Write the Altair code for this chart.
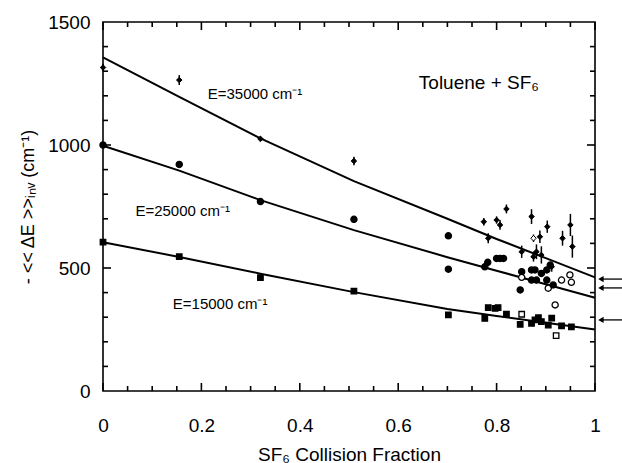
import altair as alt
import pandas as pd

FONT = "Liberation Sans"
W, H = 492, 369

# fitted curves (evaluated at the measured fractions)
curve_x = [0, 0.155, 0.32, 0.51, 0.7, 0.8, 0.9, 1.0]
curve_35000 = [1356, 1196, 1027, 853, 700, 618, 540, 462]
curve_25000 = [997, 896, 776, 654, 544, 489, 434, 379]
curve_15000 = [605, 545, 477, 402, 333, 305, 277, 250]

# E = 35000 cm-1 (diamonds with error bars)
e35_x = [0, 0.155, 0.32, 0.51, 0.774, 0.783, 0.800, 0.807, 0.820, 0.851, 0.871,
         0.875, 0.875, 0.881, 0.888, 0.891, 0.903, 0.912, 0.934, 0.950, 0.954]
e35_y = [1315, 1264, 1025, 935, 688, 621, 695, 675, 740, 566, 709,
         621, 546, 566, 627, 553, 668, 505, 621, 675, 587]
e35_err = [15, 20, 10, 17, 15, 20, 15, 20, 18, 25, 30,
           15, 20, 30, 25, 35, 25, 20, 30, 45, 45]
e35_open = [False] * 11 + [True] + [False] * 9

# E = 25000 cm-1 (circles)
e25_x = [0, 0.155, 0.32, 0.51, 0.702, 0.702, 0.776, 0.782, 0.800, 0.807, 0.814,
         0.851, 0.848, 0.871, 0.878, 0.871, 0.881, 0.891, 0.902, 0.902, 0.909,
         0.905, 0.915, 0.919, 0.932, 0.949, 0.952, 0.851]
e25_y = [1000, 921, 770, 698, 631, 495, 505, 523, 539, 539, 539,
         485, 411, 492, 492, 451, 451, 478, 492, 451, 512,
         418, 431, 350, 451, 472, 442, 462]
e25_open = [False] * 21 + [True, False, True, True, True, True, True]

# E = 15000 cm-1 (squares)
e15_x = [0, 0.155, 0.32, 0.51, 0.702, 0.776, 0.783, 0.797, 0.803, 0.820, 0.851,
         0.848, 0.871, 0.878, 0.885, 0.891, 0.905, 0.912, 0.921, 0.932, 0.952]
e15_y = [605, 546, 461, 406, 309, 295, 339, 336, 339, 312, 312,
         271, 275, 289, 298, 282, 268, 296, 225, 265, 261]
e15_open = [False] * 10 + [True] + [False] * 7 + [True, False, False]

# right-hand arrows (limits at fraction 1)
arrow_y = [455, 419, 289]

# axis ticks
x_major = [0, 0.2, 0.4, 0.6, 0.8, 1.0]
x_minor = [0.05, 0.1, 0.15, 0.25, 0.3, 0.35, 0.45, 0.5, 0.55, 0.65, 0.7, 0.75, 0.85, 0.9, 0.95]
y_major = [500, 1000]
y_minor = [100, 200, 300, 400, 600, 700, 800, 900, 1100, 1200, 1300, 1400]

# annotations
ann_text = ["E=35000 cm⁻¹", "E=25000 cm⁻¹", "E=15000 cm⁻¹", "Toluene + SF₆"]
ann_x = [0.309, 0.162, 0.238, 0.764]
ann_y = [1207, 732, 354, 1252]
ann_size = [15, 15, 15, 19]

xs = alt.Scale(domain=[0, 1], nice=False, zero=False)
ys = alt.Scale(domain=[0, 1500], nice=False, zero=False)

xaxis = alt.Axis(values=x_major, format="~g", domain=False, ticks=False, grid=False,
                 labelFlush=False, labelOverlap=False,
                 labelFont=FONT, labelFontSize=19, labelColor="black", labelPadding=25,
                 title="SF₆  Collision Fraction", titleFont=FONT, titleFontSize=19,
                 titleFontWeight="normal", titleColor="black", titleBaseline="alphabetic",
                 titleY=69)
yaxis = alt.Axis(values=[0, 500, 1000, 1500], format="d", domain=False, ticks=False, grid=False,
                 labelFlush=False, labelOverlap=False,
                 labelFont=FONT, labelFontSize=19, labelColor="black", labelPadding=13,
                 title="- << ΔE >>ᵢₙᵥ    (cm⁻¹)", titleFont=FONT, titleFontSize=18,
                 titleFontWeight="normal", titleColor="black", titleAngle=270,
                 titleAlign="center", titleBaseline="alphabetic", titleX=-70, titleY=H / 2)

curves = pd.DataFrame({
    "x": curve_x * 3,
    "y": curve_35000 + curve_25000 + curve_15000,
    "E": ["35000"] * len(curve_x) + ["25000"] * len(curve_x) + ["15000"] * len(curve_x),
})

lines = alt.Chart(curves).mark_line(color="black", strokeWidth=2).encode(
    x=alt.X("x:Q", scale=xs, axis=xaxis),
    y=alt.Y("y:Q", scale=ys, axis=yaxis),
    detail="E:N",
)

d35 = pd.DataFrame({"x": e35_x, "y": e35_y, "lo": [a - b for a, b in zip(e35_y, e35_err)],
                    "hi": [a + b for a, b in zip(e35_y, e35_err)], "open": e35_open})
d25 = pd.DataFrame({"x": e25_x, "y": e25_y, "open": e25_open})
d15 = pd.DataFrame({"x": e15_x, "y": e15_y, "open": e15_open})

fill_enc = alt.condition("datum.open", alt.value("white"), alt.value("black"))

err = alt.Chart(d35).mark_rule(color="black", strokeWidth=1.5).encode(
    x=alt.X("x:Q", scale=xs), y=alt.Y("lo:Q", scale=ys), y2="hi:Q")
pts35 = alt.Chart(d35).mark_point(shape="diamond", filled=True, size=30, stroke="black",
                                  strokeWidth=1, opacity=1).encode(
    x=alt.X("x:Q", scale=xs), y=alt.Y("y:Q", scale=ys), fill=fill_enc)
pts25 = alt.Chart(d25).mark_point(shape="circle", filled=True, size=38, stroke="black",
                                  strokeWidth=1.3, opacity=1).encode(
    x=alt.X("x:Q", scale=xs), y=alt.Y("y:Q", scale=ys), fill=fill_enc)
pts15 = alt.Chart(d15).mark_point(shape="square", filled=True, size=30, stroke="black",
                                  strokeWidth=1.3, opacity=1).encode(
    x=alt.X("x:Q", scale=xs), y=alt.Y("y:Q", scale=ys), fill=fill_enc)

arr = pd.DataFrame({"y": arrow_y, "x0": [1.012] * 3, "x1": [1.06] * 3})
arrow_shaft = alt.Chart(arr).mark_rule(color="black", strokeWidth=1.3, clip=False).encode(
    x=alt.X("x0:Q", scale=xs), x2="x1:Q", y=alt.Y("y:Q", scale=ys))
arrow_head = alt.Chart(arr).mark_point(shape="triangle-left", filled=True, size=40,
                                       color="black", opacity=1, clip=False).encode(
    x=alt.X("x0:Q", scale=xs), y=alt.Y("y:Q", scale=ys))

ann = pd.DataFrame({"t": ann_text, "x": ann_x, "y": ann_y, "s": ann_size})
ann_small = alt.Chart(ann[ann.s == 15]).mark_text(font=FONT, fontSize=15, color="black").encode(
    x=alt.X("x:Q", scale=xs), y=alt.Y("y:Q", scale=ys), text="t:N")
ann_big = alt.Chart(ann[ann.s == 19]).mark_text(font=FONT, fontSize=19, color="black").encode(
    x=alt.X("x:Q", scale=xs), y=alt.Y("y:Q", scale=ys), text="t:N")

# inward frame ticks on all four sides (tick lengths converted to data units)
XU = 1.0 / W
YU = 1500.0 / H
TICK_COLOR = "black"

def hticks(vals, length):
    out = []
    for a0, a1 in ((0.0, length * XU), (1 - length * XU, 1.0)):
        df = pd.DataFrame({"v": vals, "a0": [a0] * len(vals), "a1": [a1] * len(vals)})
        out.append(alt.Chart(df).mark_rule(color=TICK_COLOR, strokeWidth=1.6).encode(
            y=alt.Y("v:Q", scale=ys), x=alt.X("a0:Q", scale=xs), x2="a1:Q"))
    return out

def vticks(vals, length):
    out = []
    for b0, b1 in ((0.0, length * YU), (1500 - length * YU, 1500.0)):
        df = pd.DataFrame({"v": vals, "b0": [b0] * len(vals), "b1": [b1] * len(vals)})
        out.append(alt.Chart(df).mark_rule(color=TICK_COLOR, strokeWidth=1.6).encode(
            x=alt.X("v:Q", scale=xs), y=alt.Y("b0:Q", scale=ys), y2="b1:Q"))
    return out

tick_layers = hticks(y_major, 8) + hticks(y_minor, 5) + vticks(x_major, 8) + vticks(x_minor, 5)

chart = alt.layer(
    lines, *tick_layers, err, pts35, pts25, pts15, arrow_shaft, arrow_head, ann_small, ann_big
).properties(
    width=W, height=H,
    autosize=alt.AutoSizeParams(type="none"),
    padding={"left": 103, "top": 22, "right": 27, "bottom": 72},
    background="white",
).configure_view(stroke="black", strokeWidth=1.6)

chart.save("out.html", embed_options={"renderer": "svg", "actions": False})
